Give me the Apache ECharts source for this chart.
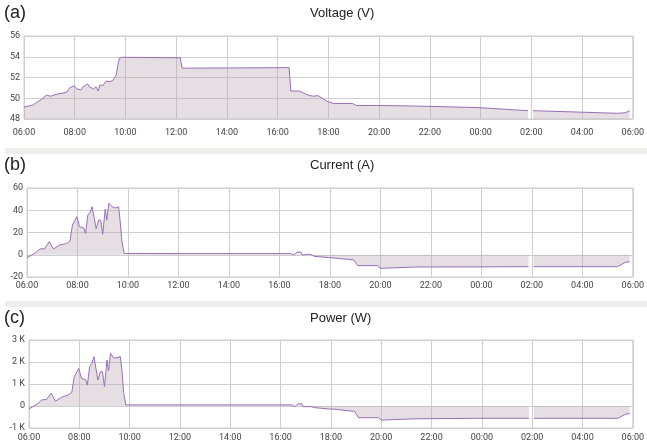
<!DOCTYPE html>
<html lang="en">
<head>
  <meta charset="UTF-8">
  <title>Voltage / Current / Power</title>
  <script src="https://cdn.jsdelivr.net/npm/echarts@6/dist/echarts.min.js"></script>
  <style>
    html, body { margin: 0; padding: 0; background: #fff; }
    #chart { width: 647px; height: 445px; }
  </style>
</head>
<body>
  <div id="chart"></div>
  <script>
    // hours since 06:00 (null row = logging gap near 02:00)
    const hours = [0, 0.36, 0.5, 0.7, 0.88, 1.05, 1.3, 1.55, 1.7, 1.8, 1.98, 2.08, 2.25, 2.32, 2.41, 2.5,
      2.58, 2.74, 2.84, 2.92, 3.0, 3.1, 3.16, 3.24, 3.38, 3.5, 3.63, 3.7, 3.76, 3.85, 6.16, 6.23,
      10.45, 10.52, 10.57, 10.7, 10.85, 10.9, 11.2, 11.4, 11.6, 11.95, 12.2, 12.95, 13.1, 13.9, 14.0,
      15.4, 17.9, 19.87, 19.95, 20.07, 23.4, 23.7, 23.88];

    const voltage = [49.15, 49.35, 49.6, 49.9, 50.3, 50.2, 50.4, 50.5, 50.6, 51.0, 51.2, 50.9, 50.8, 51.1, 51.2, 51.4,
      51.1, 50.9, 51.1, 50.7, 51.3, 51.2, 51.4, 51.65, 51.6, 51.7, 52.2, 53.2, 53.85, 53.95, 53.9, 52.9,
      52.95, 50.7, 50.7, 50.7, 50.7, 50.65, 50.3, 50.2, 50.25, 49.7, 49.5, 49.5, 49.3, 49.3, 49.3,
      49.25, 49.1, 48.8, null, 48.8, 48.55, 48.6, 48.8];

    const current = [-2.6, 2.0, 5.2, 5.4, 11.8, 5.2, 8.8, 10, 12, 26.7, 34.2, 25.2, 24, 19.2, 35.7, 38,
      43.2, 23.5, 31.2, 31, 18.4, 41.1, 31, 46.2, 43.2, 42, 43.2, 28, 12, 1.2, 1.0, 1.0,
      1.0, 0.3, -0.2, 2.4, 2.4, -0.2, 0.5, -1.5, -1.8, -2.6, -3.0, -4.7, -9.8, -9.8, -12.2,
      -11, -10.9, -10.7, null, -10.7, -10.7, -6.8, -6.3];

    const power = [-140, 120, 270, 300, 580, 220, 400, 500, 620, 1330, 1710, 1260, 1200, 950, 1790, 1940,
      2240, 1180, 1560, 1560, 880, 2090, 1590, 2390, 2170, 2200, 2240, 1560, 600, 50, 50, 50,
      50, 10, -30, 100, 100, -30, -30, -80, -100, -140, -150, -250, -530, -530, -640,
      -580, -560, -560, null, -560, -560, -380, -340];

    const panelTitles = ['Voltage (V)', 'Current (A)', 'Power (W)'];
    const panelTags = ['(a)', '(b)', '(c)'];

    const pair = vals => hours.map((h, i) => [h, vals[i] === null ? '-' : vals[i]]);
    const clock = v => String((6 + v) % 24).padStart(2, '0') + ':00';

    const lineColor = '#9a6fb6';
    const fillColor = 'rgba(180,165,175,0.5)';
    const gridColor = '#cfcfcf';
    const labelFont = { fontFamily: 'Roboto', fontSize: 9, color: '#444' };

    const grids = [
      { left: 24, right: 9, top: 36, height: 83 },
      { left: 27, right: 9, top: 188, height: 89 },
      { left: 29, right: 9, top: 340, height: 88 }
    ].map(g => Object.assign(g, { show: true, borderColor: gridColor, borderWidth: 1, containLabel: false }));

    const xMargins = [9, 4, 5];
    const xAxes = grids.map((g, i) => ({
      type: 'value', gridIndex: i, min: 0, max: 24, interval: 2,
      axisLine: { show: false }, axisTick: { show: false },
      splitLine: { lineStyle: { color: gridColor } },
      axisLabel: Object.assign({ formatter: clock, margin: xMargins[i], showMinLabel: true, showMaxLabel: true }, labelFont)
    }));

    const yRanges = [[48, 56, 2], [-20, 60, 20], [-1000, 3000, 1000]];
    const yAxes = yRanges.map((r, i) => ({
      type: 'value', gridIndex: i, min: r[0], max: r[1], interval: r[2],
      axisLine: { show: false }, axisTick: { show: false },
      splitLine: { lineStyle: { color: gridColor } },
      axisLabel: Object.assign({
        margin: 4,
        formatter: i === 2 ? (v => v === 0 ? '0' : (v / 1000) + ' K') : null
      }, labelFont)
    }));

    const series = [voltage, current, power].map((vals, i) => ({
      type: 'line', xAxisIndex: i, yAxisIndex: i,
      data: pair(vals), showSymbol: false, connectNulls: false,
      lineStyle: { color: lineColor, width: 1 },
      areaStyle: { color: fillColor },
      silent: true
    }));

    const tagY = [15, 167, 320];
    const titles = [];
    panelTitles.forEach((t, i) => {
      titles.push({ text: t, left: 310, top: tagY[i] - 8,
        textStyle: { fontFamily: 'Liberation Sans', fontSize: 13, fontWeight: 'normal', color: '#222' } });
      titles.push({ text: panelTags[i], left: 4, top: tagY[i] - 11,
        textStyle: { fontFamily: 'Liberation Sans', fontSize: 18, fontWeight: 'normal', color: '#222' } });
    });

    const chart = echarts.init(document.getElementById('chart'));
    chart.setOption({
      animation: false,
      backgroundColor: '#fff',
      title: titles.map(t => Object.assign(t, { padding: 0 })),
      grid: grids,
      xAxis: xAxes,
      yAxis: yAxes,
      series: series,
      graphic: [
        { type: 'rect', shape: { x: 5, y: 148, width: 642, height: 6 }, style: { fill: '#eeeeea' } },
        { type: 'rect', shape: { x: 5, y: 301, width: 642, height: 6 }, style: { fill: '#eeeeea' } }
      ]
    });
  </script>
</body>
</html>
